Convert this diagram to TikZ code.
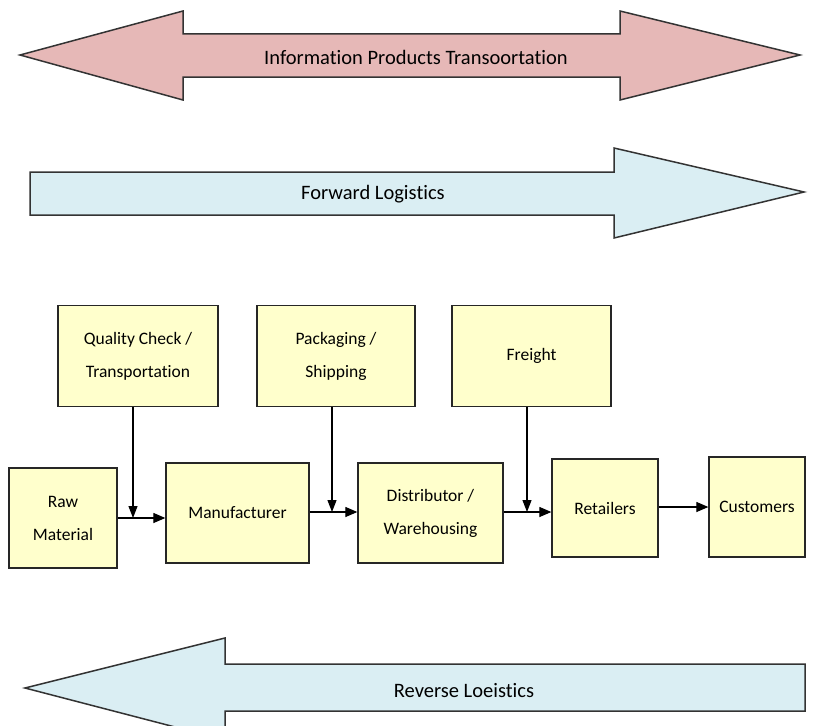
\documentclass[tikz,border=0pt]{standalone}
\usepackage{fontspec}
\setmainfont{Carlito}[Ligatures={NoCommon}]
\usetikzlibrary{arrows.meta}
\definecolor{pinkfill}{HTML}{E6B8B7}
\definecolor{bluefill}{HTML}{DAEEF3}
\definecolor{boxfill}{HTML}{FFFFCC}
\begin{document}
\begin{tikzpicture}[x=1pt,y=-1pt,
  bigarrow/.style={draw=black!80,line width=1.5pt,line join=miter},
  bigtext/.style={font=\fontsize{20.5}{24}\selectfont},
  stage/.style={draw=black!85,line width=1.3pt,fill=boxfill,align=center,
    font=\fontsize{17.5}{33}\selectfont,inner sep=0pt},
  flow/.style={draw=black,line width=1.2pt,-{Triangle[length=12pt,width=10pt]}},
  feed/.style={draw=black,line width=1.2pt,-{Triangle[length=12pt,width=9pt]}}]
\useasboundingbox (0,0) rectangle (818,725);
% top double arrow
\path[bigarrow,fill=pinkfill] (20,55) -- (183,11) -- (183,34) -- (620,34) -- (620,11)
  -- (800,55) -- (620,100) -- (620,77) -- (183,77) -- (183,100) -- cycle;
\node[bigtext] (info) at (416,57) {Information Products Transoortation};
% forward
\path[bigarrow,fill=bluefill] (30,172) -- (614,172) -- (614,148) -- (804,192)
  -- (614,238) -- (614,215) -- (30,215) -- cycle;
\node[bigtext] (fwd) at (373,194) {Forward Logistics};
% reverse
\path[bigarrow,fill=bluefill] (805,664) -- (225,664) -- (225,638) -- (25,688)
  -- (225,740) -- (225,711) -- (805,711) -- cycle;
\node[bigtext] (rev) at (464,691) {Reverse Loeistics};
% boxes
\node[stage,minimum width=160pt,minimum height=101pt] (qc) at (138,356) {Quality Check /\\Transportation};
\node[stage,minimum width=158pt,minimum height=101pt] (pack) at (336,356) {Packaging /\\Shipping};
\node[stage,minimum width=159pt,minimum height=101pt] (fr) at (531.5,356) {Freight};
\node[stage,minimum width=108pt,minimum height=100pt] (raw) at (63,518) {Raw\\Material};
\node[stage,minimum width=143pt,minimum height=100pt] (manu) at (237.5,513) {Manufacturer};
\node[stage,minimum width=145pt,minimum height=100pt] (dist) at (430.5,513) {Distributor /\\Warehousing};
\node[stage,minimum width=106pt,minimum height=98pt] (ret) at (605,508) {Retailers};
\node[stage,minimum width=96pt,minimum height=100pt] (cust) at (757,507) {Customers};
% junctions
\coordinate (j1) at (133,518);
\coordinate (j2) at (332,512);
\coordinate (j3) at (527,512);
\draw[flow] (raw.east |- j1) -- (manu.west |- j1);
\draw[feed] (qc.south -| j1) -- (j1);
\draw[flow] (manu.east |- j2) -- (dist.west |- j2);
\draw[feed] (pack.south -| j2) -- (j2);
\draw[flow] (dist.east |- j3) -- (ret.west |- j3);
\draw[feed] (fr.south -| j3) -- (j3);
\draw[flow] (ret.east |- 0,507) -- (cust.west |- 0,507);
\end{tikzpicture}
\end{document}
